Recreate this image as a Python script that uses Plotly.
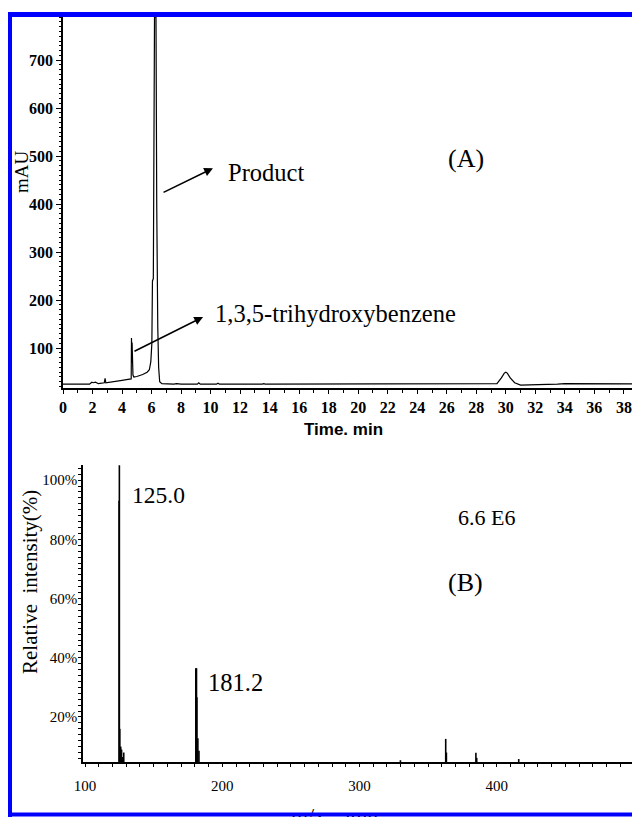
import plotly.graph_objects as go

# The page adds an 8 px body margin, so the figure is drawn at (8, 8) in the window.
OFF = 8
W, H = 640 - OFF, 817 - OFF

# ---------------- data ----------------
# Panel A: HPLC chromatogram (time in min, absorbance in mAU)
time_min = [0, 1.8, 1.95, 2.05, 2.2, 2.4, 2.8, 2.85, 2.9, 3.2, 3.6, 4.0, 4.4, 4.62,
            4.64, 4.66, 4.68, 4.74, 4.8, 5.0, 5.4, 5.7, 5.85, 5.95, 6.02, 6.06, 6.12,
            6.2, 6.3, 6.35, 6.38, 6.42, 6.48, 6.55, 6.7, 7.0, 7.5, 7.7, 8.0, 9.1, 9.2,
            9.3, 10.4, 10.5, 10.6, 13.5, 13.6, 13.7, 20.0, 26.0, 28.5, 29.4, 29.7,
            29.9, 30.0, 30.1, 30.3, 30.6, 31.0, 31.5, 32.2, 33.5, 34.0, 39.1]
mau = [25, 25, 29, 28, 29, 26, 28, 37, 28, 29, 31, 33, 35, 36,
       121, 70, 112, 44, 40, 41, 45, 50, 55, 72, 110, 240, 245,
       790, 790, 400, 150, 145, 60, 30, 26, 25.5, 25, 26, 25, 25, 28,
       25, 25, 27, 25, 25, 26, 25, 25, 25.5, 25.5, 26, 38,
       48, 50, 48, 38, 28, 23, 23, 24, 25, 26, 25.5]

# Panel B: mass spectrum (m/z, relative intensity %)
mz = [124.8, 125.0, 125.3, 126.0, 126.6, 127.3, 128.2, 180.7, 181.2, 181.5, 182.2,
      183.0, 329.8, 362.8, 363.3, 384.8, 385.4, 416.0]
rel_int = [93, 105, 16, 10, 9, 6.5, 8, 36.5, 36.5, 26.7, 12.8, 8.6, 5.4, 12.6, 8,
           7.9, 6.2, 5.8]

a_xticks = list(range(0, 40, 2))
a_yticks = [100, 200, 300, 400, 500, 600, 700]
b_xticks = [100, 200, 300, 400, 500]
b_yticks = [20, 40, 60, 80, 100]


def px(x):
    return (x - OFF) / W


def py(y):
    return 1 - (y - OFF) / H


# build stick spectrum
spec_x, spec_y = [], []
for m, r in zip(mz, rel_int):
    spec_x += [m, m, None]
    spec_y += [0, r, None]

serif = "Liberation Serif"
sans = "Liberation Sans"

fig = go.Figure()
fig.add_trace(go.Scatter(x=time_min, y=mau, mode="lines",
                         line=dict(color="black", width=1.2),
                         xaxis="x", yaxis="y", showlegend=False))
fig.add_trace(go.Scatter(x=spec_x, y=spec_y, mode="lines",
                         line=dict(color="black", width=1.6),
                         xaxis="x2", yaxis="y2", showlegend=False))

axis_common = dict(showline=True, linecolor="black", linewidth=1.5,
                   showgrid=False, zeroline=False, mirror=False, automargin=False)
tick_a = dict(family=serif, size=16, color="black")
tick_b = dict(family=serif, size=15, color="black")

fig.update_layout(
    width=W, height=H,
    font=dict(family=serif, color="black"),
    margin=dict(l=0, r=0, t=0, b=0),
    paper_bgcolor="white", plot_bgcolor="white",
    xaxis=dict(domain=[px(63), 1.0], range=[0, (640 - 63) / 14.76], anchor="y",
               tickmode="array", tickvals=a_xticks,
               ticktext=["<b>%d</b>" % v for v in a_xticks],
               ticks="outside", ticklen=4, tickcolor="black",
               minor=dict(dtick=1, tick0=0, ticks="outside", ticklen=3, tickcolor="black"),
               tickfont=tick_a, ticklabelstandoff=0,
               **axis_common),
    yaxis=dict(domain=[py(388), py(17)], range=[17, 790], anchor="x",
               tickmode="array", tickvals=a_yticks,
               ticktext=["<b>%d</b>" % v for v in a_yticks],
               ticks="outside", ticklen=5, tickcolor="black",
               minor=dict(dtick=10, tick0=0, ticks="outside", ticklen=2, tickcolor="black"),
               tickfont=tick_a,
               **axis_common),
    xaxis2=dict(domain=[px(83), px(634)], range=[98.5, 500], anchor="y2",
                tickmode="array", tickvals=b_xticks,
                ticktext=["%d" % v for v in b_xticks],
                ticks="outside", ticklen=3, tickcolor="black",
                minor=dict(dtick=10, tick0=100, ticks="outside", ticklen=3, tickcolor="black"),
                tickfont=tick_b, ticklabelstandoff=6,
                **axis_common),
    yaxis2=dict(domain=[py(762), py(465)], range=[4.8, 105.1], anchor="x2",
                tickmode="array", tickvals=b_yticks,
                ticktext=["%d%%" % v for v in b_yticks],
                ticks="outside", ticklen=1, tickcolor="black",
                minor=dict(dtick=2, tick0=0, ticks="outside", ticklen=3, tickcolor="black"),
                tickfont=tick_b,
                **axis_common),
)


def label(text, x, y, size, family=serif, angle=0, bold=False):
    if bold:
        text = "<b>%s</b>" % text
    return dict(text=text, x=px(x), y=py(y), xref="paper", yref="paper",
                xanchor="center", yanchor="middle", showarrow=False, textangle=angle,
                font=dict(family=family, size=size, color="black"))


ann = [
    label("Time. min", 343, 430, 17, family=sans, bold=True),
    label("mAU", 21, 172, 19, angle=-90),
    label("Relative  intensity(%)", 30, 582, 21, angle=-90),
    label("m/z,  amu", 334, 815, 22),
    label("(A)", 466, 158, 26),
    label("Product", 266, 173, 24.5),
    label("1,3,5-trihydroxybenzene", 335, 313, 24.5),
    label("125.0", 158, 495, 23.5),
    label("181.2", 235, 682, 24.5),
    label("6.6 E6", 486, 518, 22),
    label("(B)", 465, 582, 26),
]
# arrows (data coordinates of panel A)
ann.append(dict(text="", x=10.16, y=475, ax=6.71, ay=423, xref="x", yref="y",
                axref="x", ayref="y", showarrow=True, arrowhead=2, arrowsize=1.1,
                arrowwidth=1.6, arrowcolor="black"))
ann.append(dict(text="", x=9.49, y=165, ax=4.74, ay=92, xref="x", yref="y",
                axref="x", ayref="y", showarrow=True, arrowhead=2, arrowsize=1.1,
                arrowwidth=1.6, arrowcolor="black"))
# bottom blue frame edge (a box drawn above the cut-off axis title)
ann.append(dict(text=" ", x=0, y=0, xref="paper", yref="paper", xanchor="left",
                yanchor="bottom", showarrow=False, width=W, height=3, borderpad=0,
                bgcolor="#0000ff", opacity=1, font=dict(size=2)))
fig.update_layout(annotations=ann)

# blue frame: top and left edges
fig.add_shape(type="rect", xref="paper", yref="paper", x0=px(8), x1=1.0,
              y0=py(17), y1=py(12), fillcolor="#0000ff", opacity=1,
              line=dict(width=0), layer="above")
fig.add_shape(type="rect", xref="paper", yref="paper", x0=px(8), x1=px(12),
              y0=0, y1=py(12), fillcolor="#0000ff", opacity=1,
              line=dict(width=0), layer="above")

fig.write_html("out.html")
